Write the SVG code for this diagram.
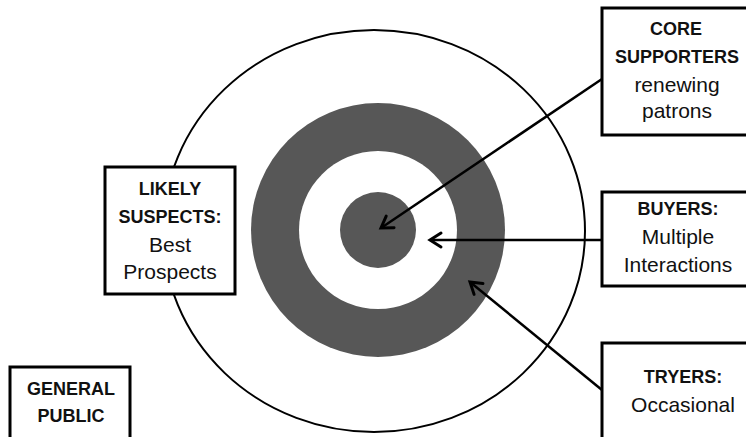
<svg xmlns="http://www.w3.org/2000/svg" width="746" height="437" viewBox="0 0 746 437">
<defs>
<style>
.box{fill:#fff;stroke:#000;stroke-width:3}
.t{font-family:"Liberation Sans",Arial,sans-serif;font-size:21px;text-anchor:middle;fill:#111}
.b{font-weight:bold;font-size:18px}
.c{stroke:#000;stroke-width:2.5;fill:none}
</style>
<marker id="arr" markerUnits="userSpaceOnUse" markerWidth="20" markerHeight="20" refX="0" refY="0" viewBox="-14 -10 16 20" orient="auto">
<path d="M-11,-7 L0,0 L-11,7" fill="none" stroke="#000" stroke-width="3" stroke-linecap="round" stroke-linejoin="miter"/>
</marker>
</defs>
<rect width="746" height="437" fill="#fff"/>
<g id="target">
<ellipse cx="374" cy="231" rx="211" ry="201" fill="none" stroke="#000" stroke-width="2"/>
<circle cx="378" cy="230" r="127" fill="#575757"/>
<circle cx="378" cy="230" r="79" fill="#fff"/>
<circle cx="378" cy="230" r="38" fill="#575757"/>
</g>
<g id="connectors">
<line class="c" x1="602" y1="79" x2="381" y2="228" marker-end="url(#arr)"/>
<line class="c" x1="602" y1="240" x2="430" y2="240" marker-end="url(#arr)"/>
<line class="c" x1="602" y1="390" x2="470" y2="282" marker-end="url(#arr)"/>
</g>
<g id="core">
<rect class="box" x="602" y="8" width="150" height="127"/>
<text class="t b" x="676" y="35">CORE</text>
<text class="t b" x="677" y="63">SUPPORTERS</text>
<text class="t" x="677" y="92">renewing</text>
<text class="t" x="677" y="118">patrons</text>
</g>
<g id="buyers">
<rect class="box" x="602" y="192" width="150" height="94"/>
<text class="t b" x="678" y="215">BUYERS:</text>
<text class="t" x="678" y="244">Multiple</text>
<text class="t" x="678" y="272">Interactions</text>
</g>
<g id="tryers">
<rect class="box" x="602" y="343" width="150" height="110"/>
<text class="t b" x="683" y="383">TRYERS:</text>
<text class="t" x="683" y="412">Occasional</text>
</g>
<g id="likely">
<rect class="box" x="105" y="167" width="130" height="127"/>
<text class="t b" x="170" y="195">LIKELY</text>
<text class="t b" x="170" y="223">SUSPECTS:</text>
<text class="t" x="170" y="252">Best</text>
<text class="t" x="170" y="279">Prospects</text>
</g>
<g id="general">
<rect class="box" x="10" y="367" width="120" height="90"/>
<text class="t b" x="71" y="395">GENERAL</text>
<text class="t b" x="71" y="422">PUBLIC</text>
</g>
</svg>
